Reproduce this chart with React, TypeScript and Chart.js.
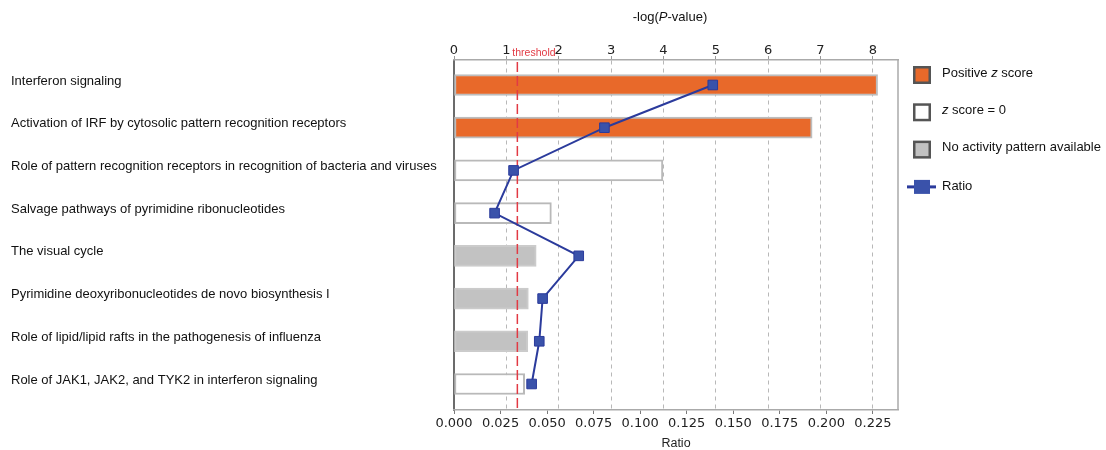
import React, { useEffect, useRef } from "react";
import { Chart, registerables } from "chart.js";

Chart.register(...registerables);

const pathways = [
  "Interferon signaling",
  "Activation of IRF by cytosolic pattern recognition receptors",
  "Role of pattern recognition receptors in recognition of bacteria and viruses",
  "Salvage pathways of pyrimidine ribonucleotides",
  "The visual cycle",
  "Pyrimidine deoxyribonucleotides de novo biosynthesis I",
  "Role of lipid/lipid rafts in the pathogenesis of influenza",
  "Role of JAK1, JAK2, and TYK2 in interferon signaling",
];

const negLogP = [8.09, 6.84, 3.99, 1.86, 1.57, 1.42, 1.41, 1.35];
const ratios = [0.139, 0.0808, 0.032, 0.0218, 0.067, 0.0476, 0.0458, 0.0417];
const zScoreTypes = ["positive", "positive", "zero", "zero", "none", "none", "none", "zero"];
const thresholdValue = 1.21;

const legendEntries = [
  { label: "Positive z score", kind: "positive" },
  { label: "z score = 0", kind: "zero" },
  { label: "No activity pattern available", kind: "none" },
  { label: "Ratio", kind: "ratio" },
];

const FILL: Record<string, string> = { positive: "#e8692a", zero: "#ffffff", none: "#c2c2c2" };
const BORDER: Record<string, string> = { positive: "#bdbdbd", zero: "#b9b9b9", none: "#cbcbcb" };
const LINE_COLOR = "#2b3b9c";
const POINT_COLOR = "#3a52aa";
const SANS = "'Liberation Sans', Arial, sans-serif";
const DEJAVU = "'DejaVu Sans', Verdana, sans-serif";

type Part = [string, boolean];

function richParts(text: string, italicWords: string[]): Part[] {
  const parts: Part[] = [];
  const words = text.split(" ");
  words.forEach((w, i) => {
    const sep = i < words.length - 1 ? " " : "";
    if (italicWords.includes(w)) {
      parts.push([w, true]);
      if (sep) parts.push([sep, false]);
    } else {
      parts.push([w + sep, false]);
    }
  });
  return parts;
}

function drawRich(ctx: CanvasRenderingContext2D, parts: Part[], x: number, y: number, size: number, align: "left" | "center", color: string) {
  const fontFor = (it: boolean) => `${it ? "italic " : ""}${size}px ${SANS}`;
  let total = 0;
  parts.forEach(([t, it]) => {
    ctx.font = fontFor(it);
    total += ctx.measureText(t).width;
  });
  let cx = align === "center" ? x - total / 2 : x;
  ctx.fillStyle = color;
  ctx.textBaseline = "middle";
  ctx.textAlign = "left";
  parts.forEach(([t, it]) => {
    ctx.font = fontFor(it);
    ctx.fillText(t, cx, y);
    cx += ctx.measureText(t).width;
  });
}

const decorPlugin = {
  id: "decor",
  afterDatasetDraw(chart: any, args: any) {
    if (args.index !== 0) return;
    const { ctx, chartArea } = chart;
    const x = chart.scales.x2.getPixelForValue(thresholdValue);
    ctx.save();
    ctx.strokeStyle = "#e23a44";
    ctx.lineWidth = 1.5;
    ctx.setLineDash([10, 4]);
    ctx.beginPath();
    ctx.moveTo(x, chartArea.top + 2);
    ctx.lineTo(x, chartArea.bottom);
    ctx.stroke();
    ctx.restore();
  },
  afterDraw(chart: any) {
    const { ctx, chartArea } = chart;
    ctx.save();
    // right border
    ctx.strokeStyle = "#aaaaaa";
    ctx.lineWidth = 1.5;
    ctx.beginPath();
    ctx.moveTo(chartArea.right, chartArea.top);
    ctx.lineTo(chartArea.right, chartArea.bottom);
    ctx.stroke();

    // threshold label
    const tx = chart.scales.x2.getPixelForValue(thresholdValue);
    ctx.fillStyle = "#e23a44";
    ctx.font = `10.5px ${SANS}`;
    ctx.textAlign = "left";
    ctx.textBaseline = "middle";
    ctx.fillText("threshold", tx - 5, chartArea.top - 7);

    // top title
    drawRich(ctx, [["-log(", false], ["P", true], ["-value)", false]], (chartArea.left + chartArea.right) / 2 - 6, 17, 13, "center", "#111");

    // legend
    const boxX = 913;
    const textX = 942;
    const startY = 75;
    const step = 37.3;
    legendEntries.forEach((e, i) => {
      const cy = startY + i * step;
      if (e.kind === "ratio") {
        ctx.strokeStyle = LINE_COLOR;
        ctx.lineWidth = 3;
        ctx.beginPath();
        ctx.moveTo(907, cy);
        ctx.lineTo(936, cy);
        ctx.stroke();
        ctx.fillStyle = POINT_COLOR;
        ctx.fillRect(914, cy - 7, 16, 14);
        drawRich(ctx, richParts(e.label, ["z"]), textX, cy, 13, "left", "#111");
      } else {
        ctx.fillStyle = "#555555";
        ctx.fillRect(boxX, cy - 9, 18, 18);
        ctx.fillStyle = FILL[e.kind];
        ctx.fillRect(boxX + 2.5, cy - 6.5, 13, 13);
        drawRich(ctx, richParts(e.label, ["z"]), textX, cy - 2, 13, "left", "#111");
      }
    });
    ctx.restore();
  },
};

export default function App() {
  const canvasRef = useRef<HTMLCanvasElement | null>(null);

  useEffect(() => {
    if (!canvasRef.current) return;
    const idx = pathways.map((_, i) => i);
    const chart = new Chart(canvasRef.current, {
      data: {
        datasets: [
          {
            type: "bar",
            label: "-log(P-value)",
            data: idx.map((i) => ({ x: negLogP[i], y: i })),
            xAxisID: "x2",
            yAxisID: "y",
            backgroundColor: zScoreTypes.map((t) => FILL[t]),
            borderColor: zScoreTypes.map((t) => BORDER[t]),
            borderWidth: 2,
            borderSkipped: false,
            barThickness: 21,
            order: 2,
          } as any,
          {
            type: "line",
            label: "Ratio",
            data: idx.map((i) => ({ x: ratios[i], y: i })),
            xAxisID: "x",
            yAxisID: "y",
            borderColor: LINE_COLOR,
            borderWidth: 2,
            pointStyle: "rect",
            pointRadius: 6.8,
            pointBackgroundColor: POINT_COLOR,
            pointBorderColor: LINE_COLOR,
            pointBorderWidth: 1,
            tension: 0,
            order: 1,
          } as any,
        ],
      },
      options: {
        indexAxis: "y",
        animation: false,
        responsive: true,
        maintainAspectRatio: false,
        layout: { padding: { left: 11, right: 208, top: 0, bottom: 0 } },
        plugins: { legend: { display: false }, tooltip: { enabled: false } },
        scales: {
          y: {
            type: "linear",
            position: "left",
            reverse: true,
            offset: false,
            min: -0.585,
            max: 7.609,
            afterBuildTicks: (scale: any) => {
              scale.ticks = idx.map((v) => ({ value: v }));
            },
            afterFit: (scale: any) => {
              scale.width = 443;
            },
            ticks: {
              crossAlign: "far",
              labelOffset: -4,
              color: "#111",
              font: { family: SANS, size: 13 },
              callback: (v: any) => pathways[v] ?? "",
            },
            grid: { display: false, offset: false },
            border: { display: true, color: "#6b6b6b", width: 2 },
          },
          x2: {
            type: "linear",
            position: "top",
            min: 0,
            max: 8.48,
            afterFit: (scale: any) => {
              scale.height = 60;
            },
            ticks: {
              stepSize: 1,
              includeBounds: false,
              padding: -2,
              color: "#222",
              font: { family: DEJAVU, size: 13 },
            },
            grid: {
              color: "#b8b8b8",
              lineWidth: 1,
              drawOnChartArea: true,
              drawTicks: true,
              tickLength: 4,
              tickColor: "#9a9a9a",
              tickBorderDash: [],
            },
            border: { display: true, color: "#aaaaaa", width: 1.5, dash: [4, 4] },
          },
          x: {
            type: "linear",
            position: "bottom",
            min: 0,
            max: 0.2385,
            afterFit: (scale: any) => {
              scale.height = 40;
            },
            ticks: {
              stepSize: 0.025,
              includeBounds: false,
              padding: 2,
              color: "#222",
              font: { family: DEJAVU, size: 13 },
              callback: (v: any) => Number(v).toFixed(3),
            },
            title: {
              display: true,
              text: "Ratio",
              color: "#222",
              font: { family: SANS, size: 12.5 },
              padding: { top: 0, bottom: -1 },
            },
            grid: {
              drawOnChartArea: false,
              drawTicks: true,
              tickLength: 4,
              tickColor: "#7a7a7a",
            },
            border: { display: true, color: "#aaaaaa", width: 1.5 },
          },
        },
      } as any,
      plugins: [decorPlugin],
    });
    return () => chart.destroy();
  }, []);

  return (
    <div style={{ position: "absolute", left: 0, top: 0, width: 1106, height: 450, background: "#fff" }}>
      <canvas ref={canvasRef} />
    </div>
  );
}
